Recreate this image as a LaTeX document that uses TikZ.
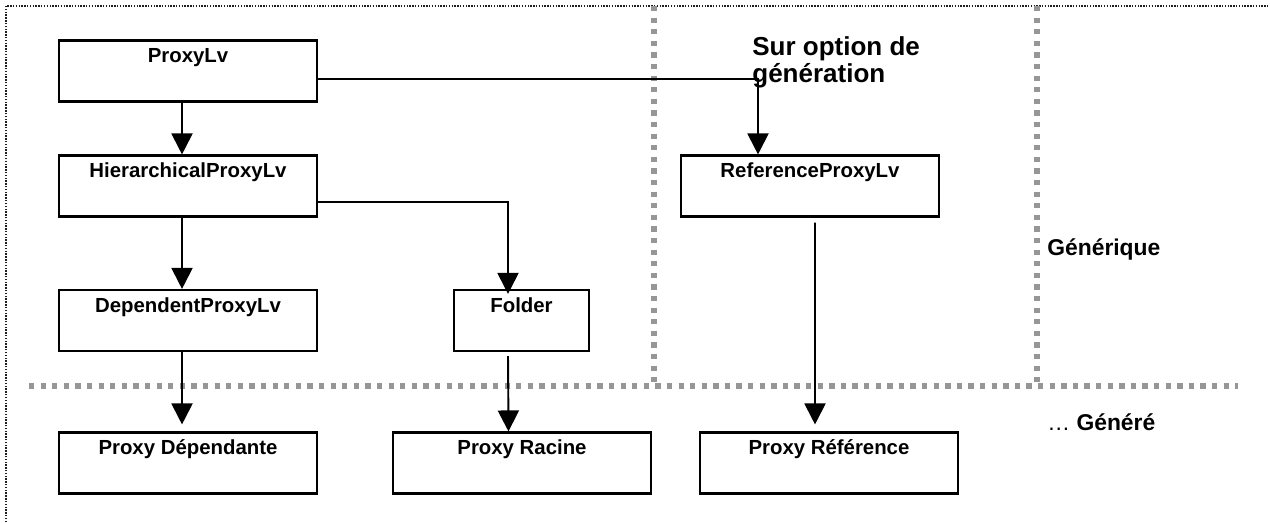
\documentclass[tikz,border=0pt]{standalone}
\usepackage{fontspec}
\setmainfont{Liberation Sans}
\usepackage{tikz}
\usetikzlibrary{arrows.meta,positioning,calc}
\definecolor{lvedge}{RGB}{0,0,0}
\definecolor{lvsep}{RGB}{150,150,150}
\definecolor{lvframe}{RGB}{30,30,30}
\tikzset{
  lvbox/.style={
    draw=lvedge, line width=1.2pt, fill=white,
    minimum width=5.16cm, inner xsep=0pt, inner ysep=0.14cm,
    text height=0.3cm, text depth=0.64cm,
    font=\fontsize{11.6}{13}\selectfont\bfseries
  },
  smallbox/.style={lvbox, minimum width=2.7cm},
  arr/.style={-{Triangle[length=0.42cm,width=0.42cm]}, draw=lvedge, line width=1.1pt},
  sep/.style={draw=lvsep, line width=3pt, dash pattern=on 3pt off 3.6pt},
  frame/.style={draw=lvframe, line width=0.8pt, dash pattern=on 0.8pt off 0.8pt},
  zone/.style={font=\fontsize{13}{15}\selectfont\bfseries, inner sep=0pt, anchor=base west}
}
\begin{document}
\begin{tikzpicture}[x=1cm,y=1cm]
  \useasboundingbox (0,0) rectangle (25.4,10.44);
  % outer frame, cut by the page on two sides
  \draw[frame] (0.12,0) -- (0.12,10.32) -- (25.4,10.32);
  % zones
  \draw[sep] (13.08,10.32) -- (13.08,2.72);
  \draw[sep] (20.74,10.32) -- (20.74,2.72);
  \draw[sep] (0.58,2.72) -- (24.76,2.72);
  % classes
  \node[lvbox] (proxylv) at (3.76,9.02) {ProxyLv};
  \node[lvbox] (hier) at (3.76,6.72) {HierarchicalProxyLv};
  \node[lvbox] (deplv) at (3.76,4.03) {DependentProxyLv};
  \node[smallbox] (folder) at (10.43,4.03) {Folder};
  \node[lvbox] (reflv) at (16.2,6.72) {ReferenceProxyLv};
  % generated
  \node[lvbox] (pdep) at (3.76,1.18) {Proxy Dépendante};
  \node[lvbox] (pracine) at (10.44,1.18) {Proxy Racine};
  \node[lvbox] (pref) at (16.58,1.18) {Proxy Référence};
  % labels
  \node[font=\fontsize{14.8}{15.9}\selectfont\bfseries, align=left, inner sep=0pt, anchor=base west]
    (option) at (15.04,8.78) {Sur option de\\génération};
  \node[zone] (gen) at (20.94,5.34) {Générique};
  \node[zone] (gene) at (20.94,1.84) {\mdseries…\ \bfseries Généré};
  % links
  \draw[arr] ([xshift=-1.2mm]proxylv.south) -- ([xshift=-1.2mm]hier.north);
  \draw[arr] ([xshift=-1.2mm]hier.south) -- ([xshift=-1.2mm]deplv.north);
  \draw[arr] ([xshift=-1.2mm]deplv.south) -- ([shift={(-1.2mm,1.4mm)}]pdep.north);
  \draw[arr] ([yshift=-3.2mm]hier.east) -| ([shift={(-2.7mm,-1mm)}]folder.north);
  \draw[arr] ([shift={(-2.7mm,-0.8mm)}]folder.south) -- ([xshift=-2.7mm]pracine.north);
  \draw[arr] ([yshift=-1.6mm]proxylv.east) -| ([xshift=-10.4mm]reflv.north);
  \draw[arr] ([shift={(1mm,-1mm)}]reflv.south) -- ([shift={(-2.8mm,1.4mm)}]pref.north);
\end{tikzpicture}
\end{document}
